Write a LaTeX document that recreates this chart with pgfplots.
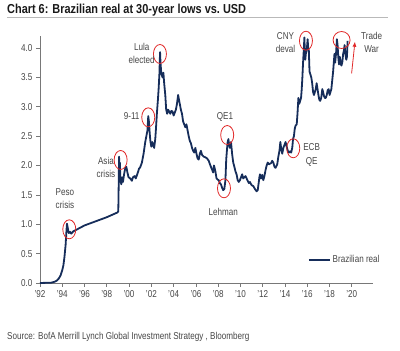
\documentclass[border=0pt]{standalone}
\usepackage{fontspec}
\setmainfont[FakeStretch=0.81]{Liberation Sans}
\newfontfamily\titlefont[FakeStretch=0.84]{Liberation Sans}
\usepackage{pgfplots}
\pgfplotsset{compat=1.18}
\usetikzlibrary{arrows.meta}
\definecolor{navy}{RGB}{22,45,90}
\definecolor{lblgray}{RGB}{70,70,70}
\definecolor{axgray}{RGB}{120,120,120}
\definecolor{circred}{RGB}{225,40,40}
\begin{document}
\begin{tikzpicture}
\path[use as bounding box] (0pt,0pt) rectangle (400pt,351pt);
\node[anchor=west, inner sep=0pt, font=\titlefont\fontsize{13}{14}\selectfont\bfseries, text=black!90] at (7pt,341pt) {Chart 6: Brazilian real at 30-year lows vs.\ USD};
\draw[gray!55, line width=0.8pt] (7pt,334pt) -- (388pt,334pt);
\node[anchor=west, inner sep=0pt, font=\fontsize{10}{11}\selectfont, text=lblgray] at (7pt,14pt) {Source: BofA Merrill Lynch Global Investment Strategy , Bloomberg};
\begin{axis}[
  at={(40pt,68pt)}, anchor=south west,
  scale only axis, width=333pt, height=246.75pt,
  xmin=1992, xmax=2021.9, ymin=0, ymax=4.2,
  axis lines=left,
  axis line style={-, draw=axgray, line width=0.7pt},
  tick align=outside, major tick length=4pt,
  tick style={axgray, line width=0.7pt},
  xtick={1992,1994,...,2020},
  xticklabels={'92,'94,'96,'98,'00,'02,'04,'06,'08,'10,'12,'14,'16,'18,'20},
  ytick={0,0.5,...,4.0},
  /pgf/number format/assume math mode=true,
  yticklabel style={/pgf/number format/.cd, fixed, fixed zerofill, precision=1},
  ticklabel style={font=\fontsize{10}{11}\selectfont, text=lblgray},
  clip=false,
  legend style={draw=none, fill=none, at={(0.804,0.093)}, anchor=west, inner sep=0pt,
    font=\fontsize{10}{11}\selectfont, text=lblgray,
    /tikz/every even column/.append style={column sep=1pt}},
  legend image code/.code={\draw[#1, line width=1.8pt] (0pt,0pt) -- (21pt,0pt);},
]
\addplot[navy, line width=1.8pt, line join=round] table {
1992.0 0.0003
1993.0 0.005
1993.3 0.02
1993.5 0.04
1993.7 0.08
1993.85 0.13
1994.0 0.22
1994.1 0.30
1994.2 0.45
1994.3 0.65
1994.38 0.90
1994.42 1.01
1994.5 0.93
1994.58 0.85
1994.7 0.87
1994.8 0.84
1994.9 0.86
1995.0 0.88
1995.3 0.91
1995.6 0.94
1996.0 0.98
1997.0 1.05
1998.0 1.12
1998.95 1.20
1999.03 1.22
1999.06 1.60
1999.1 2.15
1999.13 1.85
1999.17 2.05
1999.22 1.75
1999.3 1.68
1999.37 1.80
1999.45 1.72
1999.55 1.85
1999.65 1.95
1999.75 1.98
1999.85 1.88
1999.95 1.80
2000.1 1.78
2000.25 1.74
2000.35 1.80
2000.5 1.82
2000.6 1.78
2000.75 1.86
2000.9 1.95
2001.0 1.97
2001.15 2.05
2001.3 2.20
2001.45 2.40
2001.55 2.50
2001.65 2.60
2001.72 2.84
2001.78 2.75
2001.85 2.55
2001.92 2.40
2002.0 2.32
2002.08 2.40
2002.15 2.36
2002.25 2.30
2002.35 2.45
2002.42 2.65
2002.5 2.90
2002.58 3.10
2002.65 3.30
2002.72 3.55
2002.78 3.93
2002.82 3.75
2002.87 3.62
2002.92 3.55
2003.0 3.50
2003.08 3.58
2003.15 3.40
2003.25 3.20
2003.33 2.95
2003.42 2.88
2003.5 2.95
2003.6 2.92
2003.7 2.88
2003.8 2.93
2003.9 2.92
2004.0 2.85
2004.1 2.90
2004.2 2.95
2004.3 3.05
2004.4 3.20
2004.45 3.15
2004.55 3.05
2004.65 2.95
2004.75 2.88
2004.85 2.75
2004.95 2.70
2005.05 2.65
2005.15 2.70
2005.25 2.60
2005.35 2.50
2005.45 2.42
2005.55 2.38
2005.65 2.30
2005.75 2.25
2005.85 2.22
2005.95 2.30
2006.05 2.20
2006.15 2.12
2006.25 2.10
2006.35 2.20
2006.45 2.25
2006.55 2.18
2006.7 2.15
2006.85 2.14
2007.0 2.12
2007.15 2.08
2007.3 2.00
2007.45 1.93
2007.55 1.88
2007.62 2.00
2007.75 1.90
2007.85 1.78
2007.95 1.76
2008.05 1.75
2008.15 1.70
2008.25 1.68
2008.35 1.62
2008.45 1.58
2008.55 1.60
2008.65 1.75
2008.72 2.10
2008.78 2.25
2008.85 2.40
2008.92 2.45
2008.97 2.35
2009.05 2.30
2009.15 2.40
2009.25 2.20
2009.35 2.05
2009.45 1.98
2009.55 1.90
2009.65 1.85
2009.75 1.75
2009.85 1.72
2009.95 1.75
2010.05 1.80
2010.15 1.85
2010.25 1.78
2010.35 1.80
2010.45 1.82
2010.55 1.78
2010.65 1.74
2010.75 1.70
2010.85 1.72
2010.95 1.68
2011.05 1.66
2011.15 1.65
2011.3 1.60
2011.45 1.56
2011.55 1.58
2011.7 1.80
2011.75 1.85
2011.85 1.78
2011.95 1.84
2012.05 1.75
2012.15 1.82
2012.25 1.92
2012.35 2.00
2012.45 2.05
2012.55 2.02
2012.65 2.03
2012.75 2.04
2012.85 2.08
2012.95 2.05
2013.05 1.98
2013.15 1.96
2013.3 2.02
2013.4 2.15
2013.5 2.25
2013.58 2.40
2013.65 2.30
2013.75 2.20
2013.85 2.30
2013.95 2.35
2014.05 2.40
2014.15 2.32
2014.25 2.25
2014.35 2.22
2014.45 2.24
2014.55 2.22
2014.65 2.30
2014.72 2.45
2014.8 2.50
2014.87 2.62
2014.95 2.68
2015.05 2.70
2015.12 2.88
2015.2 3.15
2015.28 3.05
2015.36 3.10
2015.44 3.15
2015.5 3.30
2015.56 3.50
2015.62 3.75
2015.68 3.95
2015.74 4.18
2015.78 3.95
2015.82 3.80
2015.87 3.90
2015.92 3.95
2015.97 4.00
2016.03 4.15
2016.08 4.00
2016.14 3.95
2016.2 3.60
2016.28 3.55
2016.36 3.50
2016.44 3.40
2016.52 3.25
2016.6 3.20
2016.68 3.25
2016.76 3.30
2016.84 3.40
2016.92 3.30
2017.0 3.20
2017.08 3.12
2017.16 3.10
2017.25 3.15
2017.35 3.30
2017.42 3.25
2017.5 3.18
2017.58 3.15
2017.66 3.15
2017.75 3.20
2017.83 3.28
2017.92 3.30
2018.0 3.20
2018.08 3.25
2018.16 3.30
2018.24 3.45
2018.32 3.60
2018.38 3.75
2018.44 3.90
2018.5 3.75
2018.58 3.90
2018.66 4.15
2018.72 4.05
2018.78 3.85
2018.85 3.72
2018.92 3.85
2019.0 3.75
2019.06 3.70
2019.14 3.75
2019.22 3.90
2019.28 3.95
2019.35 4.05
2019.42 3.90
2019.5 3.80
2019.56 3.85
2019.62 4.12
};
\addlegendentry{Brazilian real}
% annotations
\begin{scope}[circred, line width=0.8pt]
\draw (axis cs:1994.63,0.914) ellipse [x radius=6.5pt, y radius=9.5pt];
\draw (axis cs:1999.24,2.094) ellipse [x radius=6.5pt, y radius=9.5pt];
\draw (axis cs:2001.72,2.82) ellipse [x radius=6.5pt, y radius=9.5pt];
\draw (axis cs:2002.77,3.898) ellipse [x radius=6.5pt, y radius=9.5pt];
\draw (axis cs:2008.81,2.519) ellipse [x radius=6.5pt, y radius=9.5pt];
\draw (axis cs:2008.52,1.612) ellipse [x radius=6.5pt, y radius=9.5pt];
\draw (axis cs:2014.74,2.293) ellipse [x radius=6.5pt, y radius=9.5pt];
\draw (axis cs:2015.88,4.124) ellipse [x radius=6.5pt, y radius=9.5pt];
\draw (axis cs:2019.08,4.136) ellipse [x radius=8.5pt, y radius=8.5pt];
\draw[-{Latex[length=5pt,width=4pt]}] (axis cs:2019.98,3.569) -- (axis cs:2020.28,4.107);
\end{scope}
\begin{scope}[every node/.style={font=\fontsize{10}{13.3}\selectfont, text=lblgray, align=center, inner sep=0pt}]
\node at (axis cs:1994.24,1.44) {Peso\\crisis};
\node at (axis cs:1997.92,1.966) {Asia\\crisis};
\node at (axis cs:2000.23,2.843) {9-11};
\node at (axis cs:2001.13,3.903) {Lula\\elected};
\node at (axis cs:2008.61,2.83) {QE1};
\node at (axis cs:2008.45,1.203) {Lehman};
\node at (axis cs:2016.39,2.179) {ECB\\QE};
\node at (axis cs:2014.04,4.09) {CNY\\deval};
\node at (axis cs:2021.78,4.10) {Trade\\War};
\end{scope}
\end{axis}
\end{tikzpicture}
\end{document}
